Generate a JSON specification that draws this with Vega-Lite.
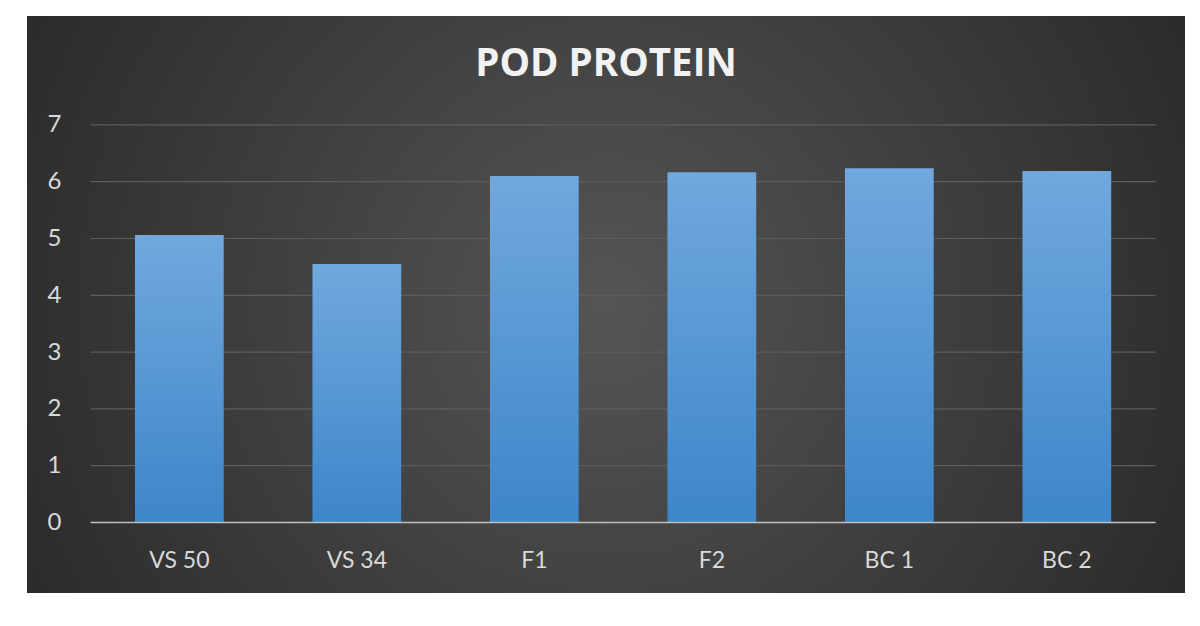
{
  "$schema": "https://vega.github.io/schema/vega-lite/v6.json",
  "width": 1158,
  "height": 577,
  "autosize": {"type": "none"},
  "padding": {"left": 27, "top": 16, "right": 15, "bottom": 33},
  "background": "#ffffff",
  "title": {
    "text": "POD PROTEIN",
    "anchor": "middle",
    "frame": "group",
    "offset": -98,
    "baseline": "alphabetic",
    "font": "Open Sans",
    "fontSize": 38.5,
    "fontWeight": "bold",
    "color": "#f2f2f2"
  },
  "datasets": {
    "bars": [
      {"genotype": "VS 50", "protein": 5.06},
      {"genotype": "VS 34", "protein": 4.55},
      {"genotype": "F1", "protein": 6.1},
      {"genotype": "F2", "protein": 6.165},
      {"genotype": "BC 1", "protein": 6.235},
      {"genotype": "BC 2", "protein": 6.19}
    ],
    "grid": [{"v": 1}, {"v": 2}, {"v": 3}, {"v": 4}, {"v": 5}, {"v": 6}, {"v": 7}],
    "base": [{"v": 0}]
  },
  "layer": [
    {
      "data": {"name": "grid"},
      "mark": {"type": "rule", "color": "#5c5c5c", "strokeWidth": 1.2},
      "encoding": {
        "y": {"field": "v", "type": "quantitative"},
        "x": {"datum": "VS 50", "type": "nominal", "bandPosition": -0.5},
        "x2": {"datum": "BC 2", "bandPosition": 1.5}
      }
    },
    {
      "data": {"name": "bars"},
      "mark": {
        "type": "bar",
        "color": {
          "gradient": "linear",
          "x1": 0, "y1": 0, "x2": 0, "y2": 1,
          "stops": [
            {"offset": 0, "color": "#71a8dd"},
            {"offset": 1, "color": "#3d86ca"}
          ]
        }
      },
      "encoding": {
        "x": {
          "field": "genotype",
          "type": "nominal",
          "sort": null,
          "scale": {
            "domain": ["VS 50", "VS 34", "F1", "F2", "BC 1", "BC 2"],
            "paddingInner": 0.5,
            "paddingOuter": 0.512,
            "align": 0.594
          },
          "axis": {
            "orient": "bottom",
            "offset": -70.5,
            "bandPosition": 0.5,
            "ticks": false,
            "domain": false,
            "grid": false,
            "title": null,
            "labelAngle": 0,
            "labelAlign": "center",
            "labelPadding": 38,
            "labelFont": "Lato",
            "labelFontSize": 23,
            "labelColor": "#d9d9d9"
          }
        },
        "y": {
          "field": "protein",
          "type": "quantitative",
          "scale": {"domain": [-1.241, 8.917], "nice": false, "zero": false},
          "axis": {
            "values": [0, 1, 2, 3, 4, 5, 6, 7],
            "format": "d",
            "offset": -34,
            "ticks": false,
            "domain": false,
            "grid": false,
            "title": null,
            "labelPadding": 0,
            "labelFont": "Lato",
            "labelFontSize": 24,
            "labelColor": "#d9d9d9"
          }
        }
      }
    },
    {
      "data": {"name": "base"},
      "mark": {"type": "rule", "color": "#bfbfbf", "strokeWidth": 1.6},
      "encoding": {
        "y": {"field": "v", "type": "quantitative"},
        "x": {"datum": "VS 50", "type": "nominal", "bandPosition": -0.5},
        "x2": {"datum": "BC 2", "bandPosition": 1.5}
      }
    }
  ],
  "config": {
    "view": {
      "stroke": null,
      "fill": {
        "gradient": "radial",
        "x1": 0.5, "y1": 0.5, "r1": 0,
        "x2": 0.5, "y2": 0.5, "r2": 0.62,
        "stops": [
          {"offset": 0, "color": "#555555"},
          {"offset": 1, "color": "#262626"}
        ]
      }
    }
  }
}
